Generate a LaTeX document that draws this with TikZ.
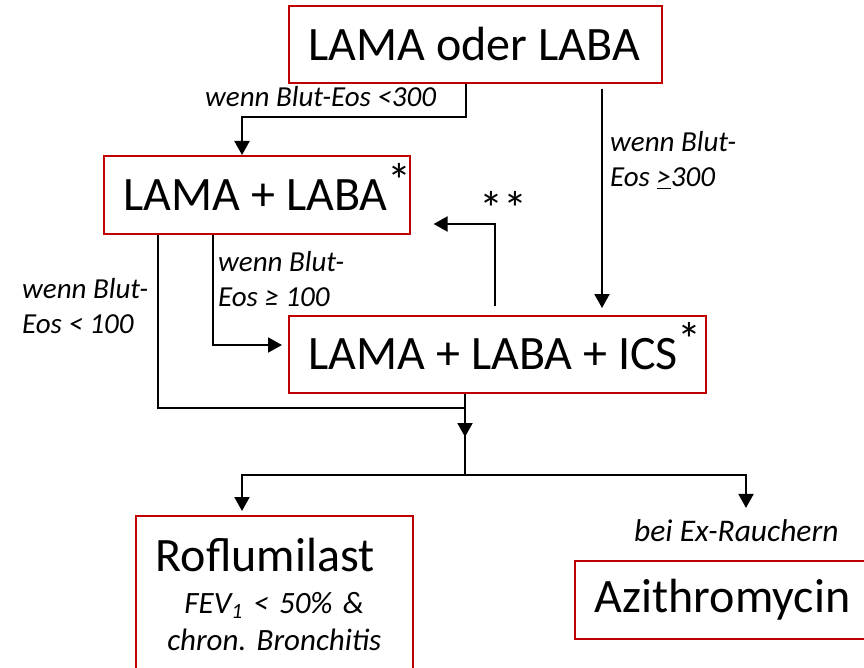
\documentclass[tikz,border=0pt]{standalone}
\usepackage{fontspec}
\setmainfont{Carlito}
\usetikzlibrary{arrows.meta}
\definecolor{boxred}{RGB}{192,0,0}

\begin{document}
\begin{tikzpicture}[x=1pt, y=-1pt,
  box/.style={draw=boxred, line width=1.6pt, inner ysep=0pt, inner xsep=20pt, font=\fontsize{48}{58}\selectfont},
  lbl/.style={font=\fontsize{29}{35}\selectfont\itshape, inner sep=0pt, align=left},
  conn/.style={line width=2pt},
  arr/.style={conn, -{Triangle[length=14pt,width=15pt]}}]
  \clip (0,0) rectangle (864,668);
  % boxes
  \node[box, minimum height=77pt, anchor=north west] (start) at (288,5) {\makebox[333pt][l]{LAMA oder LABA}};
  \node[box, minimum height=78pt, anchor=north west] (dual) at (103,155) {\makebox[266pt][l]{LAMA + LABA\rlap{\raisebox{13pt}[0pt][0pt]{*}}}};
  \node[box, minimum height=77pt, anchor=north west] (triple) at (288,315) {\makebox[377pt][l]{LAMA + LABA + ICS\rlap{\raisebox{13pt}[0pt][0pt]{*}}}};
  \node[box, text width=237pt, inner ysep=22pt, align=center, anchor=north west, font=\fontsize{31}{37}\selectfont\itshape] (rofl) at (135,515)
    {\makebox[237pt][l]{\fontsize{48}{42}\selectfont\upshape Roflumilast}\\[5pt]
     FEV\textsubscript{1} < 50\% \&\\
     chron.\ Bronchitis\\ \mbox{}};
  \node[box, minimum height=78pt, anchor=north west] (azi) at (574,560) {\makebox[300pt][l]{Azithromycin}};
  % labels
  \node[lbl, anchor=base west] (lt300) at (205,107) {wenn Blut-Eos <300};
  \node[lbl, anchor=base west] (ge300) at (610,187) {wenn Blut-\\Eos \underline{>}300};
  \node[lbl, anchor=base west] (lt100) at (22,333) {wenn Blut-\\Eos < 100};
  \node[lbl, anchor=base west] (ge100) at (218,306) {wenn Blut-\\Eos ≥ 100};
  \node[anchor=base, inner sep=0pt, font=\fontsize{48}{58}\selectfont] (stars) at (503,226) {**};
  \node[lbl, anchor=base west, font=\fontsize{31.5}{37}\selectfont\itshape] (exsmk) at (634,541) {bei Ex-Rauchern};
  % bends
  \coordinate (k1) at (466,117);
  \coordinate (k2) at (242,117);
  \coordinate (k3) at (602,200);
  \coordinate (k4) at (495,224);
  \coordinate (k5) at (158,408);
  \coordinate (k6) at (465,408);
  \coordinate (k7) at (465,437);
  \coordinate (k8) at (465,475);
  \coordinate (k9) at (242,475);
  \coordinate (k10) at (746,475);
  \coordinate (k11) at (213,345);
  % connectors
  \draw[arr] (start.south -| k1) -- (k1) -- (k2) -- (dual.north -| k2);
  \draw[arr, shorten <=5pt, shorten >=7pt] (start.south -| k3) -- (triple.north -| k3);
  \draw[arr, shorten <=9pt, shorten >=23pt] (triple.north -| k4) -- (k4) -- (dual.east |- k4);
  \draw[arr, shorten >=6pt] (dual.south -| k11) -- (k11) -- (triple.west |- k11);
  \draw[conn] (dual.south -| k5) -- (k5) -- (k6);
  \draw[conn] (triple.south -| k8) -- (k8);
  \draw[arr] (k6) -- (k7);
  \draw[arr, shorten >=4pt] (k8) -- (k9) -- (rofl.north -| k9);
  \draw[arr, shorten >=11pt] (k8) -- (k10) -- (exsmk.north -| k10);
\end{tikzpicture}
\end{document}
